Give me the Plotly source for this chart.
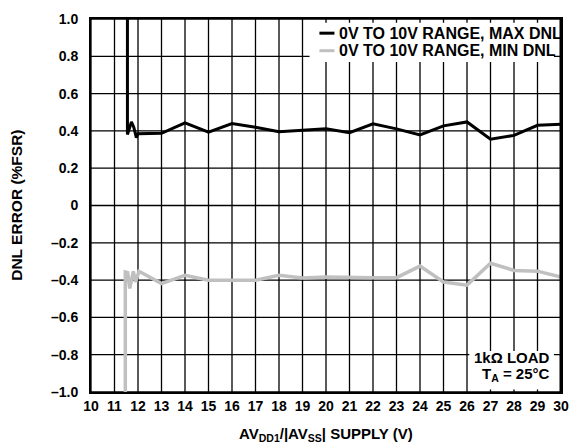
import plotly.graph_objects as go

# MAX DNL (black)
max_x = [11.55, 11.55, 11.72, 11.82, 11.93, 12.0, 13, 14, 15, 16, 17, 18, 19, 20, 21, 22, 23, 24, 25, 26, 27, 28, 29, 30]
max_y = [1.0, 0.381, 0.448, 0.42, 0.364, 0.385, 0.387, 0.443, 0.393, 0.439, 0.420, 0.396, 0.404, 0.411, 0.390, 0.438, 0.411, 0.378, 0.427, 0.448, 0.355, 0.376, 0.430, 0.436]

# MIN DNL (gray)
min_x = [11.46, 11.46, 11.56, 11.65, 11.8, 11.9, 12.04, 13, 14, 15, 16, 17, 18, 19, 20, 21, 22, 23, 24, 25, 26, 27, 28, 29, 30]
min_y = [-1.0, -0.357, -0.36, -0.445, -0.353, -0.41, -0.353, -0.419, -0.374, -0.401, -0.401, -0.401, -0.374, -0.389, -0.383, -0.387, -0.387, -0.387, -0.325, -0.41, -0.427, -0.31, -0.348, -0.352, -0.383]

series_names = ["0V TO 10V RANGE, MAX DNL", "0V TO 10V RANGE, MIN DNL"]
series_colors = ["#000000", "#c0c0c0"]

x_ticks = list(range(10, 31))
y_ticks = [1.0, 0.8, 0.6, 0.4, 0.2, 0, -0.2, -0.4, -0.6, -0.8, -1.0]
y_ticktext = ["1.0", "0.8", "0.6", "0.4", "0.2", "0", "–0.2", "–0.4", "–0.6", "–0.8", "–1.0"]

FONT = "Liberation Sans, Arial, sans-serif"

fig = go.Figure()
fig.add_trace(go.Scatter(x=max_x, y=max_y, mode="lines", name=series_names[0],
                         line=dict(color=series_colors[0], width=3), showlegend=False))
fig.add_trace(go.Scatter(x=min_x, y=min_y, mode="lines", name=series_names[1],
                         line=dict(color=series_colors[1], width=3.5), showlegend=False))

shapes = []
annotations = []

# grid lines at the tick positions
for t in x_ticks:
    shapes.append(dict(type="line", xref="x", yref="paper", x0=t, x1=t, y0=0, y1=1,
                       line=dict(color="black", width=1.3), layer="below"))
for t in y_ticks:
    shapes.append(dict(type="line", xref="paper", yref="y", x0=0, x1=1, y0=t, y1=t,
                       line=dict(color="black", width=1.3), layer="below"))

# legend box (white) in top-right
shapes.append(dict(type="rect", xref="paper", yref="paper", x0=0.465, x1=0.985, y0=0.885, y1=0.99,
                   fillcolor="white", line=dict(width=0), layer="above"))
for i, (nm, col) in enumerate(zip(series_names, series_colors)):
    yy = 0.962 - i * 0.047
    shapes.append(dict(type="line", xref="paper", yref="paper", x0=0.486, x1=0.518, y0=yy, y1=yy,
                       line=dict(color=col, width=3), layer="above"))
    annotations.append(dict(xref="paper", yref="paper", x=0.523, y=yy, xanchor="left", yanchor="middle",
                            text="<b>" + nm + "</b>", showarrow=False,
                            font=dict(family=FONT, size=16, color="black")))

# load annotation box
shapes.append(dict(type="rect", xref="paper", yref="paper", x0=0.805, x1=0.985, y0=0.007, y1=0.11,
                   fillcolor="white", line=dict(width=0), layer="above"))
annotations.append(dict(xref="paper", yref="paper", x=0.98, y=0.092, xanchor="right", yanchor="middle",
                        text="<b>1kΩ LOAD</b>", showarrow=False,
                        font=dict(family=FONT, size=15, color="black")))
annotations.append(dict(xref="paper", yref="paper", x=0.98, y=0.047, xanchor="right", yanchor="middle",
                        text="<b>T<sub>A</sub> = 25°C</b>", showarrow=False,
                        font=dict(family=FONT, size=15, color="black")))

# axis titles
annotations.append(dict(xref="paper", yref="paper", x=0.5, y=-0.113, xanchor="center", yanchor="middle",
                        text="<b>AV<sub>DD1</sub>/|AV<sub>SS</sub>| SUPPLY (V)</b>", showarrow=False,
                        font=dict(family=FONT, size=15, color="black")))
annotations.append(dict(xref="paper", yref="paper", x=-0.159, y=0.5, xanchor="center", yanchor="middle",
                        text="<b>DNL ERROR (%FSR)</b>", showarrow=False, textangle=-90,
                        font=dict(family=FONT, size=15.5, color="black")))

# thicker right border
shapes.append(dict(type="line", xref="paper", yref="paper", x0=1, x1=1, y0=0, y1=1,
                   line=dict(color="black", width=3), layer="above"))

fig.update_layout(
    width=580, height=448,
    margin=dict(l=91, r=11, t=13, b=56),
    paper_bgcolor="white", plot_bgcolor="white",
    font=dict(family=FONT, size=14, color="black"),
    shapes=shapes, annotations=annotations,
    xaxis=dict(range=[10, 30], tickmode="array", tickvals=x_ticks,
               ticktext=["<b>%d</b>" % t for t in x_ticks],
               showgrid=False,
               showline=True, linecolor="black", linewidth=2, mirror=True,
               zeroline=False, ticklabelstandoff=0,
               tickfont=dict(family=FONT, size=14)),
    yaxis=dict(range=[-1, 1], tickmode="array", tickvals=y_ticks,
               ticktext=["<b>%s</b>" % t for t in y_ticktext],
               showgrid=False,
               showline=True, linecolor="black", linewidth=2, mirror=True,
               zeroline=False, ticklabelstandoff=8,
               tickfont=dict(family=FONT, size=14)),
)

fig.write_html("out.html", config={"displayModeBar": False},
               post_script="document.body.style.margin='0';document.body.style.overflow='hidden';")
